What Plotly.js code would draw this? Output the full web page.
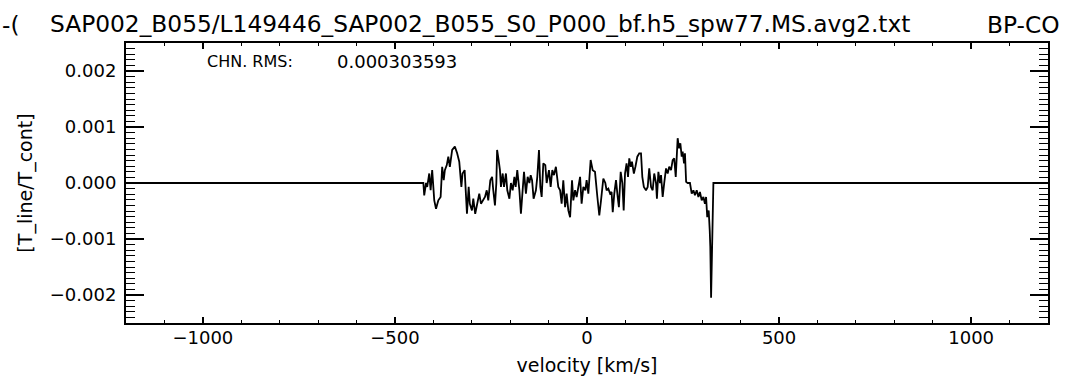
<!DOCTYPE html>
<html>
<head>
<meta charset="utf-8">
<script src="https://cdn.plot.ly/plotly-3.0.1.min.js"></script>
<style>html,body{margin:0;padding:0;background:#fff;}#plot{width:1068px;height:381px;}</style>
</head>
<body>
<div id="plot"></div>
<script>
// velocity [km/s]
const velocity = [
 -1200, -426, -423.7, -419, -416, -410.6, -407, -403, -397.6, -393,
 -387, -381, -377, -373, -370, -365, -361, -357, -351, -344,
 -338, -332.5, -327, -324, -318.5, -312.5, -308, -305, -299.5, -296,
 -291, -285.6, -280.4, -276, -270, -265.6, -261, -257, -251.7, -247,
 -244, -239.6, -236, -234, -230, -226.6, -224, -219.5, -216, -211,
 -207.5, -202, -198, -193.5, -189, -185.7, -181.5, -176, -172, -168.5,
 -164, -159, -154.5, -150, -146.6, -143, -139, -133, -129.4, -125,
 -121.5, -118, -113.7, -108.5, -105, -99, -94.6, -90.3, -86, -81,
 -74.7, -70, -66, -61.7, -57, -53, -48.6, -44, -39, -35.6,
 -31, -27, -21.7, -18, -14, -9.5, -4.3, -1, 3.5, 9.5,
 14.8, 20.8, 27, 32, 36.5, 42.5, 47.7, 51, 55.5, 60,
 64, 67, 71, 75.5, 79.9, 83, 87.7, 92, 95.5, 99,
 103, 106.8, 110, 114, 117, 122, 126, 131, 136, 140.6,
 144, 148, 153.6, 158, 162, 166.7, 171, 175, 179.7, 182,
 185.8, 190, 192.7, 197, 201, 205.7, 210, 214, 218.75, 223,
 227, 231, 236, 239.6, 243, 246.5, 249, 252.6, 255, 258,
 262, 268, 272.6, 277, 281, 285.6, 290, 294, 298.6, 303,
 307, 310, 313, 316.8, 319.5, 321, 323, 327, 329, 1200
];
// T_line/T_cont
const ratio = [
 0, 0, -0.00022, 0, -0.00007, 0.00017, -0.00013, 0.00023, -0.00031, -0.00046,
 -0.00031, -0.00025, 0.00029, 0.00005, 0.00023, 0.00032, 0.00047, 0.00029, 0.00059, 0.00065,
 0.00053, 0.00038, -0.00007, 0.00017, 0.00023, -0.00055, -0.00007, -0.00037, -0.00049, -0.00028,
 -0.00055, -0.00037, -0.00019, -0.00037, -0.00031, -0.00025, -0.00013, -0.00031, 0.00005, 0.00011,
 -0.00013, -0.00040, 0, 0.00059, 0.00041, 0.00023, -0.00007, 0.00017, -0.00007, 0.00017,
 -0.00013, -0.00028, 0, -0.00013, 0.00011, -0.00007, 0.00023, -0.00013, -0.00055, -0.00013,
 0.00020, -0.00019, 0.00011, 0, 0.00014, 0.00005, -0.00028, -0.00013, 0.00011, 0.00059,
 -0.00007, -0.00025, 0.00035, 0.00032, 0, 0.00023, -0.00007, 0.00023, 0.00014, 0.00029,
 -0.00007, -0.00013, -0.00037, 0.00005, -0.00043, -0.00019, -0.00049, -0.00061, 0.00005, -0.00031,
 -0.00013, -0.00025, 0, 0.00011, -0.00037, -0.00007, -0.00013, 0.00005, -0.00019, 0.00041,
 0.00023, 0.00020, -0.00025, -0.00058, -0.00031, 0.00008, 0, -0.00013, -0.00010, -0.00019,
 -0.00016, -0.00052, -0.00019, 0.00005, -0.00025, -0.00043, 0.00020, 0, -0.00049, 0.00017,
 0.00035, 0.00011, 0.00044, 0.00029, 0.00038, 0.00017, 0.00029, 0.00047, 0.00053, 0.00053,
 0.00011, -0.00007, -0.00013, -0.00007, 0.00026, -0.00007, -0.00013, 0.00017, 0, -0.00028,
 0.00020, 0, 0.00014, -0.00025, 0, 0.00026, 0.00017, 0.00029, 0.00023, 0.00041,
 0.00044, 0.00011, 0.00080, 0.00062, 0.00071, 0.00047, 0.00056, 0.00035, 0.00053, 0.00002,
 0, 0, -0.00019, -0.00013, -0.00022, -0.00013, -0.00025, -0.00016, -0.00031, -0.00025,
 -0.00037, -0.00025, -0.00061, -0.00049, -0.00085, -0.00115, -0.00205, -0.00031, 0, 0
];
const xTickVals = [-1000, -500, 0, 500, 1000];
const yTickVals = [-0.002, -0.001, 0, 0.001, 0.002];
const titleMain = "SAP002_B055/L149446_SAP002_B055_S0_P000_bf.h5_spw77.MS.avg2.txt";
const titleTail = "BP-CO";
const titleLead = "-(";
const rmsLabel = "CHN. RMS:";
const rmsValue = "0.000303593";

const FONT = "DejaVu Sans, sans-serif";
const W = 1068, H = 381, L = 126, R = 20, T = 43, B = 58;
const pw = W - L - R, ph = H - T - B;
function px2paperX(p){ return (p - L) / pw; }
function px2paperY(p){ return (H - B - p) / ph; }

const trace = {
  x: velocity, y: ratio, type: 'scatter', mode: 'lines',
  line: {color: '#000', width: 1.8}, hoverinfo: 'skip'
};

const axisCommon = {
  showgrid: false, zeroline: false, showline: true, linecolor: '#000', linewidth: 2,
  mirror: 'ticks', ticks: 'inside', tickcolor: '#000',
  tickfont: {family: FONT, size: 18, color: '#000'}
};

const layout = {
  width: W, height: H,
  margin: {l: L, r: R, t: T, b: B, pad: 0},
  paper_bgcolor: '#fff', plot_bgcolor: '#fff',
  showlegend: false,
  title: {
    text: titleMain, xref: 'container', yref: 'container',
    x: 50 / W, xanchor: 'left', y: 1 - 24 / H, yanchor: 'middle',
    font: {family: FONT, size: 23.3, color: '#000'}
  },
  xaxis: Object.assign({}, axisCommon, {
    range: [-1200, 1200], tickvals: xTickVals, ticklen: 6, tickwidth: 1.5,
    ticklabelstandoff: -3,
    minor: {dtick: 100, tick0: 0, ticklen: 3, tickwidth: 1, ticks: 'inside', tickcolor: '#000'},
    title: {text: 'velocity [km/s]', font: {family: FONT, size: 19, color: '#000'}, standoff: 12}
  }),
  yaxis: Object.assign({}, axisCommon, {
    range: [-0.0025, 0.0025], tickvals: yTickVals, tickformat: '.3f', ticklen: 18, tickwidth: 1.5,
    ticklabelstandoff: 4,
    minor: {dtick: 0.0001, tick0: 0, ticklen: 9, tickwidth: 1, ticks: 'inside', tickcolor: '#000'},
    title: {text: '[T_line/T_cont]', font: {family: FONT, size: 19, color: '#000'}, standoff: 12}
  }),
  annotations: [
    {text: rmsLabel, xref: 'paper', yref: 'paper', x: px2paperX(205), y: px2paperY(62),
     xanchor: 'left', yanchor: 'middle', showarrow: false,
     font: {family: FONT, size: 16, color: '#000'}},
    {text: rmsValue, xref: 'paper', yref: 'paper', x: px2paperX(335), y: px2paperY(62),
     xanchor: 'left', yanchor: 'middle', showarrow: false,
     font: {family: FONT, size: 18, color: '#000'}},
    {text: titleTail, xref: 'paper', yref: 'paper', x: px2paperX(985), y: px2paperY(24),
     xanchor: 'left', yanchor: 'middle', showarrow: false,
     font: {family: FONT, size: 23.3, color: '#000'}},
    {text: titleLead, xref: 'paper', yref: 'paper', x: px2paperX(0), y: px2paperY(24),
     xanchor: 'left', yanchor: 'middle', showarrow: false,
     font: {family: FONT, size: 23.3, color: '#000'}}
  ]
};

Plotly.newPlot('plot', [trace], layout, {staticPlot: true, displayModeBar: false});
</script>
</body>
</html>
